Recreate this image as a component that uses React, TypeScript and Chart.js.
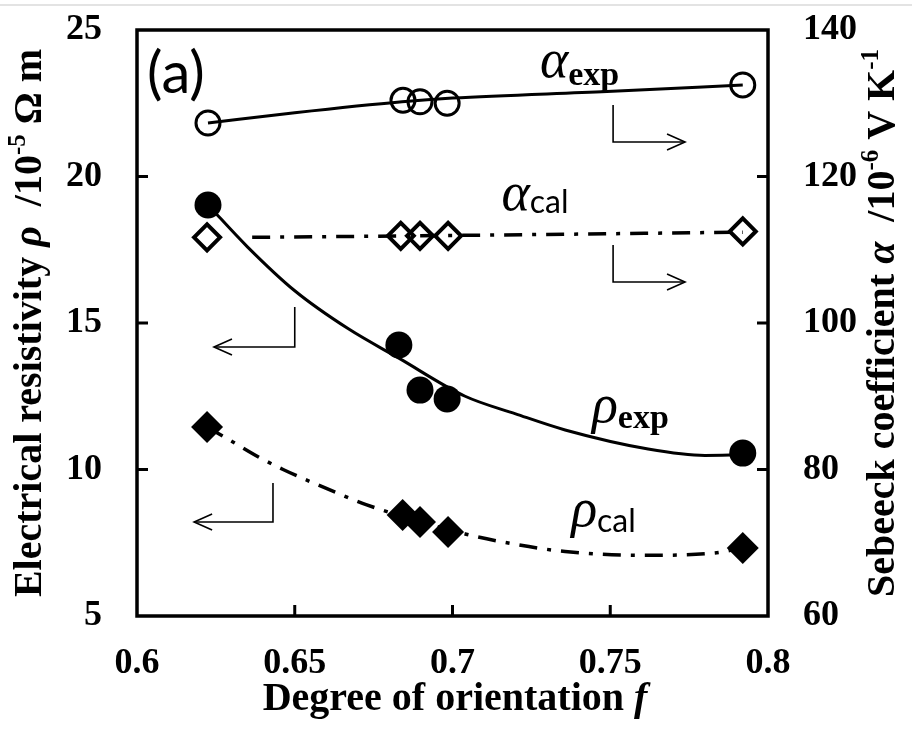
import React, { useEffect, useRef } from "react";
import { Chart, registerables } from "chart.js";

Chart.register(...registerables);

// ---------- data ----------
const xTickLabels = ["0.6", "0.65", "0.7", "0.75", "0.8"];
const yLeftTicks = ["5", "10", "15", "20", "25"];
const yRightTicks = ["60", "80", "100", "120", "140"];

const alphaExpF = [0.6225, 0.6843, 0.6897, 0.6983, 0.792];
const alphaExpVal = [127.3, 130.4, 130.2, 130.0, 132.5];
const alphaExpFitF = [0.6225, 0.65, 0.684, 0.7, 0.749, 0.792];
const alphaExpFitVal = [127.3, 128.7, 130.2, 130.7, 131.6, 132.5];

const alphaCalF = [0.6222, 0.6836, 0.6897, 0.6986, 0.792];
const alphaCalVal = [111.7, 111.9, 111.9, 111.9, 112.5];
const alphaCalFitF = [0.6365, 0.7, 0.792];
const alphaCalFitVal = [111.7, 111.95, 112.4];

const rhoExpF = [0.6225, 0.683, 0.6897, 0.6983, 0.792];
const rhoExpVal = [19.03, 14.25, 12.71, 12.41, 10.56];
const rhoExpFitF = [0.6225, 0.635, 0.65, 0.667, 0.683, 0.704, 0.72, 0.7357, 0.762, 0.78, 0.792];
const rhoExpFitVal = [19.03, 17.6, 16.1, 14.8, 13.8, 12.5, 11.9, 11.35, 10.7, 10.48, 10.5];

const rhoCalF = [0.6222, 0.6842, 0.6897, 0.6986, 0.792];
const rhoCalVal = [11.45, 8.45, 8.21, 7.87, 7.32];
const rhoCalFitF = [0.6222, 0.6304, 0.639, 0.6463, 0.6634, 0.6726, 0.704, 0.7198, 0.7357, 0.7607, 0.7829, 0.792];
const rhoCalFitVal = [11.45, 10.94, 10.4, 10.0, 9.2, 8.8, 7.8, 7.45, 7.2, 7.07, 7.15, 7.32];

const pts = (xs: number[], ys: number[]) => xs.map((x, i) => ({ x, y: ys[i] }));

const SERIF = "'Liberation Serif', 'Times New Roman', serif";
const SANS = "Lato, 'Open Sans', sans-serif";
const DASHDOT = [18, 10, 4, 10];

type Seg = { text: string; font: string; dy?: number };

function richWidth(ctx: CanvasRenderingContext2D, segs: Seg[]) {
  let w = 0;
  for (const s of segs) {
    ctx.font = s.font;
    w += ctx.measureText(s.text).width;
  }
  return w;
}
function drawRich(ctx: CanvasRenderingContext2D, segs: Seg[], x: number, y: number, align: "left" | "center") {
  const w = richWidth(ctx, segs);
  let cx = align === "center" ? x - w / 2 : x;
  for (const s of segs) {
    ctx.font = s.font;
    ctx.fillText(s.text, cx, y + (s.dy || 0));
    cx += ctx.measureText(s.text).width;
  }
}

const overlayPlugin = {
  id: "overlay",
  afterDatasetsDraw(chart: any) {
    const ctx: CanvasRenderingContext2D = chart.ctx;
    const { left, right, top, bottom } = chart.chartArea;
    const sx = chart.scales.x;
    const sy = chart.scales.y;
    const sy2 = chart.scales.y2;
    ctx.save();
    ctx.fillStyle = "#000";
    ctx.lineCap = "butt";

    // light line at top of page
    ctx.strokeStyle = "#e3e3e3";
    ctx.lineWidth = 2;
    ctx.beginPath();
    ctx.moveTo(0, 5);
    ctx.lineTo(chart.width, 5);
    ctx.stroke();
    ctx.strokeStyle = "#000";

    // frame
    ctx.lineWidth = 3.5;
    ctx.strokeRect(left, top, right - left, bottom - top);

    // inner ticks
    ctx.lineWidth = 3;
    const tl = 11;
    ctx.beginPath();
    [10, 15, 20].forEach((v) => {
      const y = sy.getPixelForValue(v);
      ctx.moveTo(left, y);
      ctx.lineTo(left + tl, y);
    });
    [80, 100, 120].forEach((v) => {
      const y = sy2.getPixelForValue(v);
      ctx.moveTo(right, y);
      ctx.lineTo(right - tl, y);
    });
    [0.65, 0.7, 0.75].forEach((v) => {
      const x = sx.getPixelForValue(v);
      ctx.moveTo(x, bottom);
      ctx.lineTo(x, bottom - tl);
    });
    ctx.stroke();

    // arrows
    const arrow = (p: [number, number][], scale: any, dir: 1 | -1) => {
      ctx.lineWidth = 1.6;
      ctx.beginPath();
      p.forEach(([fx, fy], i) => {
        const X = sx.getPixelForValue(fx);
        const Y = scale.getPixelForValue(fy);
        if (i === 0) ctx.moveTo(X, Y);
        else ctx.lineTo(X, Y);
      });
      ctx.stroke();
      const [tx, ty] = p[p.length - 1];
      const X = sx.getPixelForValue(tx);
      const Y = scale.getPixelForValue(ty);
      ctx.beginPath();
      ctx.moveTo(X - dir * 18, Y - 8);
      ctx.lineTo(X, Y);
      ctx.lineTo(X - dir * 18, Y + 8);
      ctx.stroke();
    };
    arrow([[0.7509, 129.76], [0.7509, 124.7], [0.7737, 124.7]], sy2, 1);
    arrow([[0.7509, 110.65], [0.7509, 105.6], [0.7737, 105.6]], sy2, 1);
    arrow([[0.65, 15.55], [0.65, 14.18], [0.6244, 14.18]], sy, -1);
    arrow([[0.6431, 9.54], [0.6431, 8.21], [0.6181, 8.21]], sy, -1);

    // in-plot labels
    ctx.textBaseline = "middle";
    ctx.font = `58px ${SANS}`;
    ctx.fillText("(a)", sx.getPixelForValue(0.6032), sy.getPixelForValue(23.5));

    ctx.textBaseline = "alphabetic";
    const greek = `italic 54px ${SERIF}`;
    const subB = `bold 34px ${SERIF}`;
    const subS = `32px ${SANS}`;
    drawRich(ctx, [{ text: "α", font: greek }, { text: "exp", font: subB, dy: 8 }],
      sx.getPixelForValue(0.7277), sy2.getPixelForValue(133.6), "left");
    drawRich(ctx, [{ text: "α", font: greek }, { text: "cal", font: subS, dy: 3 }],
      sx.getPixelForValue(0.7155), sy2.getPixelForValue(115.4), "left");
    drawRich(ctx, [{ text: "ρ", font: greek }, { text: "exp", font: subB, dy: 6 }],
      sx.getPixelForValue(0.7442), sy.getPixelForValue(11.62), "left");
    drawRich(ctx, [{ text: "ρ", font: greek }, { text: "cal", font: subS, dy: 6 }],
      sx.getPixelForValue(0.7376), sy.getPixelForValue(8.07), "left");

    // axis titles
    const tf = `bold 40px ${SERIF}`;
    const tfi = `bold italic 40px ${SERIF}`;
    const sup = `bold 25px ${SERIF}`;
    ctx.textBaseline = "middle";
    const cy = (top + bottom) / 2;
    ctx.save();
    ctx.translate(31, cy);
    ctx.rotate(-Math.PI / 2);
    drawRich(ctx, [
      { text: "Electrical resistivity ", font: tf },
      { text: "ρ", font: tfi },
      { text: "  /10", font: tf },
      { text: "-5", font: sup, dy: -12 },
      { text: " Ω m", font: tf },
    ], 0, 0, "center");
    ctx.restore();

    ctx.save();
    ctx.translate(884, cy);
    ctx.rotate(-Math.PI / 2);
    drawRich(ctx, [
      { text: "Sebeeck coefficient ", font: tf },
      { text: "α", font: tfi },
      { text: "  /10", font: tf },
      { text: "-6", font: sup, dy: -12 },
      { text: " V K", font: tf },
      { text: "-1", font: sup, dy: -12 },
    ], 0, 0, "center");
    ctx.restore();

    drawRich(ctx, [
      { text: "Degree of orientation ", font: tf },
      { text: "f", font: tfi },
    ], 455, 700, "center");

    ctx.restore();
  },
};

export default function App() {
  const ref = useRef<HTMLCanvasElement | null>(null);
  useEffect(() => {
    document.body.style.margin = "0";
    const canvas = ref.current;
    if (!canvas) return;
    const lineBase = { type: "line" as const, pointRadius: 0, borderColor: "#000", fill: false, cubicInterpolationMode: "monotone" as const };
    const tickFont = { family: SERIF, size: 36, weight: "bold" as const };
    const chart = new Chart(canvas, {
      type: "line",
      data: {
        datasets: [
          { ...lineBase, data: pts(alphaExpFitF, alphaExpFitVal), yAxisID: "y2", borderWidth: 3 },
          { ...lineBase, data: pts(alphaCalFitF, alphaCalFitVal), yAxisID: "y2", borderWidth: 3.5, borderDash: DASHDOT },
          { ...lineBase, data: pts(rhoExpFitF, rhoExpFitVal), yAxisID: "y", borderWidth: 3 },
          { ...lineBase, data: pts(rhoCalFitF, rhoCalFitVal), yAxisID: "y", borderWidth: 3.5, borderDash: DASHDOT },
          {
            data: pts(alphaExpF, alphaExpVal), yAxisID: "y2", showLine: false,
            pointStyle: "circle", pointRadius: 12, pointBorderWidth: 3,
            pointBackgroundColor: "rgba(0,0,0,0)", pointBorderColor: "#000",
          },
          {
            data: pts(alphaCalF, alphaCalVal), yAxisID: "y2", showLine: false,
            pointStyle: "rectRot", pointRadius: 13, pointBorderWidth: 4,
            pointBackgroundColor: "rgba(255,255,255,0)", pointBorderColor: "#000",
          },
          {
            data: pts(rhoExpF, rhoExpVal), yAxisID: "y", showLine: false,
            pointStyle: "circle", pointRadius: 13.5, pointBorderWidth: 0,
            pointBackgroundColor: "#000", pointBorderColor: "#000",
          },
          {
            data: pts(rhoCalF, rhoCalVal), yAxisID: "y", showLine: false,
            pointStyle: "rectRot", pointRadius: 16, pointBorderWidth: 0,
            pointBackgroundColor: "#000", pointBorderColor: "#000",
          },
        ] as any,
      },
      options: {
        animation: false,
        responsive: false,
        layout: { padding: { top: 30, left: 0, right: 0, bottom: 0 } },
        plugins: { legend: { display: false }, tooltip: { enabled: false } },
        scales: {
          x: {
            type: "linear", min: 0.6, max: 0.8,
            grid: { display: false, drawTicks: false },
            border: { display: false },
            ticks: {
              stepSize: 0.05, autoSkip: false, maxRotation: 0, padding: 26, color: "#000",
              font: tickFont,
              callback: (_v: any, i: number) => xTickLabels[i],
            },
            afterFit: (s: any) => { s.height = 120; s.paddingLeft = 0; s.paddingRight = 0; },
          },
          y: {
            type: "linear", position: "left", min: 5, max: 25,
            grid: { display: false, drawTicks: false },
            border: { display: false },
            ticks: {
              stepSize: 5, padding: 35, color: "#000",
              font: tickFont,
              callback: (_v: any, i: number) => yLeftTicks[i],
            },
            afterFit: (s: any) => { s.width = 137; s.paddingTop = 0; s.paddingBottom = 0; },
          },
          y2: {
            type: "linear", position: "right", min: 60, max: 140,
            grid: { display: false, drawTicks: false },
            border: { display: false },
            ticks: {
              stepSize: 20, padding: 35, color: "#000",
              font: tickFont,
              callback: (_v: any, i: number) => yRightTicks[i],
            },
            afterFit: (s: any) => { s.width = 144; s.paddingTop = 0; s.paddingBottom = 0; },
          },
        },
      } as any,
      plugins: [overlayPlugin],
    });
    return () => chart.destroy();
  }, []);
  return <canvas ref={ref} width={912} height={736} style={{ display: "block" }} />;
}
